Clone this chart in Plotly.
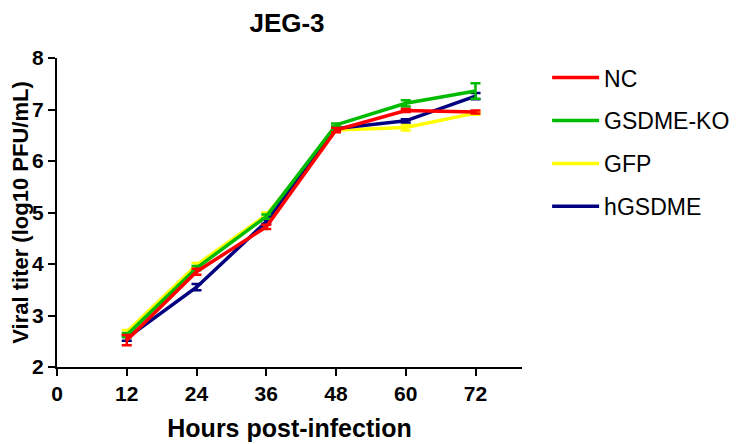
import plotly.graph_objects as go

hours = [12, 24, 36, 48, 60, 72]
series_names = ["NC", "GSDME-KO", "GFP", "hGSDME"]
nc = [2.52, 3.85, 4.72, 6.60, 6.98, 6.95]
nc_err = [0.10, 0.06, 0.04, 0.04, 0.03, 0.03]
ko = [2.62, 3.92, 4.92, 6.70, 7.12, 7.36]
ko_err = [0.04, 0.04, 0.04, 0.03, 0.06, 0.15]
gfp = [2.68, 3.98, 4.95, 6.60, 6.65, 6.93]
gfp_err = [0.04, 0.04, 0.05, 0.03, 0.06, 0.03]
hg = [2.56, 3.55, 4.82, 6.63, 6.78, 7.26]
hg_err = [0.05, 0.06, 0.04, 0.03, 0.03, 0.06]
colors = {"NC": "#ff0000", "GSDME-KO": "#00bb00", "GFP": "#ffff00", "hGSDME": "#000080"}
values = {"NC": (nc, nc_err), "GSDME-KO": (ko, ko_err), "GFP": (gfp, gfp_err), "hGSDME": (hg, hg_err)}
draw_order = ["GFP", "hGSDME", "GSDME-KO", "NC"]

fig = go.Figure()
for name in draw_order:
    y, e = values[name]
    fig.add_trace(go.Scatter(
        x=hours, y=y, name=name, mode="lines",
        line=dict(color=colors[name], width=3.5),
        error_y=dict(type="data", array=e, color=colors[name], thickness=2.5, width=5),
        legendrank=series_names.index(name) + 1,
        legendgroup=name,
    ))

fam = "Liberation Sans, Arial"
axis_font = dict(family=fam, size=21, color="black", weight="bold")
W, H = 731, 436
fig.update_layout(
    width=W, height=H,
    margin=dict(l=49, r=217, t=50, b=77, autoexpand=False),
    plot_bgcolor="white", paper_bgcolor="white",
    title=dict(text="JEG-3", x=279 / W, xanchor="center", y=1.0, yanchor="top",
               pad=dict(t=6, b=0, l=0, r=0),
               font=dict(family=fam, size=26, color="black", weight="bold")),
    xaxis=dict(range=[0, 80], tickvals=[0, 12, 24, 36, 48, 60, 72], showgrid=False, zeroline=False,
               automargin=False,
               showline=True, linecolor="black", linewidth=2, ticks="outside", ticklen=7, tickwidth=2,
               tickcolor="black", tickfont=axis_font,
               title=dict(text="Hours post-infection",
                          font=dict(family=fam, size=25, color="black", weight="bold"), standoff=15)),
    yaxis=dict(range=[2, 8], dtick=1, showgrid=False, zeroline=False,
               automargin=False,
               showline=True, linecolor="black", linewidth=2, ticks="outside", ticklen=7, tickwidth=2,
               tickcolor="black", tickfont=axis_font,
               title=dict(text="Viral titer (log10 PFU/mL)",
                          font=dict(family=fam, size=22, color="black", weight="bold"), standoff=6)),
    legend=dict(x=1.054, y=1.006, xanchor="left", yanchor="top", traceorder="grouped", tracegroupgap=10,
                itemwidth=47,
                font=dict(family=fam, size=23, color="black")),
)
fig.write_html("out.html")
